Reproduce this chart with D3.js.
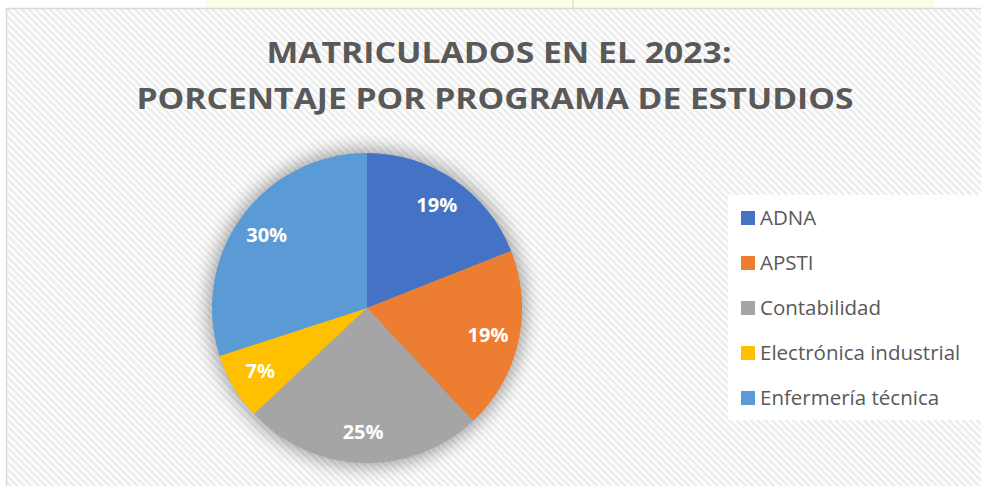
<!DOCTYPE html>
<html>
<head>
<meta charset="utf-8">
<script src="https://cdn.jsdelivr.net/npm/d3@7"></script>
<style>
  body { margin: 0; background: #fff; }
  svg { display: block; }
</style>
</head>
<body>
<script>
// datos
const programas = ["ADNA", "APSTI", "Contabilidad", "Electrónica industrial", "Enfermería técnica"];
const porcentajes = [19, 19, 25, 7, 30];
const colores = ["#4472C4", "#ED7D31", "#A5A5A5", "#FFC000", "#5B9BD5"];
const titulo = ["MATRICULADOS EN EL 2023:", "PORCENTAJE POR PROGRAMA DE ESTUDIOS"];

const W = 981, H = 486;

let svg = d3.select("body")
    .append("svg")
    .attr("width", W)
    .attr("height", H)

let defs = svg.append("defs");

let pat = defs.append("pattern")
    .attr("id", "rayas")
    .attr("patternUnits", "userSpaceOnUse")
    .attr("width", 5)
    .attr("height", 5)
    .attr("patternTransform", "rotate(45)")
pat.append("rect").attr("width", 5).attr("height", 5).attr("fill", "#ffffff")
pat.append("rect").attr("width", 5).attr("height", 2.5).attr("fill", "#ececec")

let sombra = defs.append("filter")
    .attr("id", "sombra")
    .attr("x", "-30%").attr("y", "-30%")
    .attr("width", "160%").attr("height", "160%")
sombra.append("feGaussianBlur").attr("in", "SourceAlpha").attr("stdDeviation", 9).attr("result", "b")
sombra.append("feComponentTransfer").append("feFuncA").attr("type", "linear").attr("slope", 0.35)

// franja superior (fondo del documento)
svg.append("rect")
    .attr("x", 205).attr("y", 0).attr("width", 730).attr("height", 9)
    .attr("fill", "#fdfde6")
svg.append("line")
    .attr("x1", 573).attr("x2", 573).attr("y1", 0).attr("y2", 8)
    .attr("stroke", "#d0d0d0")

// area del grafico
svg.append("rect")
    .attr("x", 6.5).attr("y", 8.5)
    .attr("width", W).attr("height", H)
    .attr("fill", "url(#rayas)")
    .attr("stroke", "#d9d9d9")
    .attr("stroke-width", 1.5)

// titulo
const tFont = "'Open Sans', 'DejaVu Sans', sans-serif";
svg.selectAll("text.titulo")
    .data(titulo)
    .join("text")
    .attr("class", "titulo")
    .attr("x", (d, i) => i === 0 ? 499 : 495)
    .attr("y", (d, i) => i === 0 ? 63 : 109)
    .attr("text-anchor", "middle")
    .attr("font-family", tFont)
    .attr("font-weight", "bold")
    .attr("font-size", 29)
    .attr("fill", "#595959")
    .attr("textLength", (d, i) => i === 0 ? 465 : 717)
    .attr("lengthAdjust", "spacingAndGlyphs")
    .text(d => d)

// pastel
const cx = 367, cy = 308, r = 155;
let pie = d3.pie().sort(null).value(d => d);
let arcos = pie(porcentajes);
let arc = d3.arc().innerRadius(0).outerRadius(r);
let arcLabel = d3.arc().innerRadius(r * 0.8).outerRadius(r * 0.8);

let g = svg.append("g").attr("transform", `translate(${cx},${cy})`);

g.append("circle")
    .attr("r", r + 4)
    .attr("fill", "#000")
    .attr("filter", "url(#sombra)")

g.selectAll("path")
    .data(arcos)
    .join("path")
    .attr("d", arc)
    .attr("fill", (d, i) => colores[i])

g.selectAll("text")
    .data(arcos)
    .join("text")
    .attr("transform", d => `translate(${arcLabel.centroid(d)})`)
    .attr("text-anchor", "middle")
    .attr("dy", "0.35em")
    .attr("font-family", tFont)
    .attr("font-weight", "bold")
    .attr("font-size", 20)
    .attr("fill", "#ffffff")
    .text(d => d.data + "%")

// leyenda
let leyenda = svg.append("g");
leyenda.append("rect")
    .attr("x", 728).attr("y", 195)
    .attr("width", 260).attr("height", 225)
    .attr("fill", "#ffffff")

let y = d3.scalePoint().domain(programas).range([218, 398]);

let items = leyenda.selectAll("g")
    .data(programas)
    .join("g")
    .attr("transform", d => `translate(741, ${y(d)})`)

items.append("rect")
    .attr("y", -7)
    .attr("width", 14)
    .attr("height", 14)
    .attr("fill", (d, i) => colores[i])

items.append("text")
    .attr("x", 19)
    .attr("dy", "0.35em")
    .attr("font-family", tFont)
    .attr("font-size", 20.5)
    .attr("fill", "#595959")
    .text(d => d)
</script>
</body>
</html>
